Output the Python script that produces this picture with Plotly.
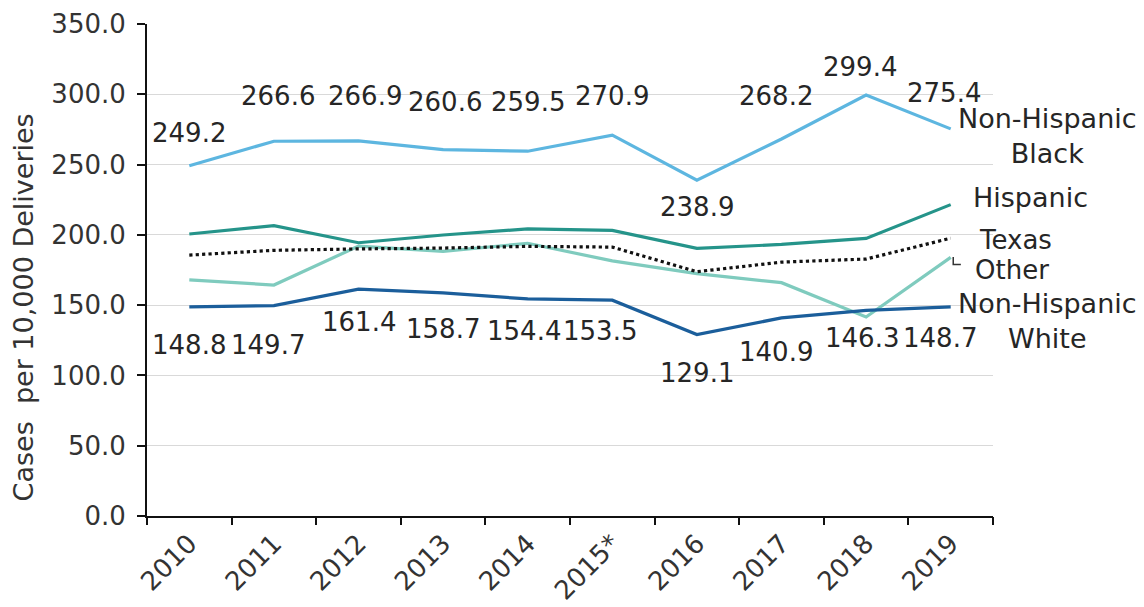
import plotly.graph_objects as go

# ── Data ──────────────────────────────────────────────────────────────────────

years = ["2010", "2011", "2012", "2013", "2014", "2015*", "2016", "2017", "2018", "2019"]

nh_black = [249.2, 266.6, 266.9, 260.6, 259.5, 270.9, 238.9, 268.2, 299.4, 275.4]
hispanic = [200.6, 206.5, 194.4, 199.9, 204.2, 203.2, 190.4, 193.2, 197.5, 221.5]
texas = [185.6, 189.0, 190.0, 190.6, 191.8, 191.3, 173.8, 180.6, 182.8, 197.6]
other = [168.0, 164.3, 192.0, 188.2, 194.0, 181.5, 172.4, 166.0, 141.6, 184.0]
nh_white = [148.8, 149.7, 161.4, 158.7, 154.4, 153.5, 129.1, 140.9, 146.3, 148.7]

# label offsets (px) — positions only, not data
black_dy = [33, 45, 45, 48, 49, 39, -27, 43, 28, 36]
black_dx = [0, 4, 6, 2, 0, 0, 0, -6, -6, -7]
white_dy = [-38, -39, -33, -36, -32, -31, -38, -34, -28, -31]
white_dx = [0, -6, 0, 0, -4, -12, 0, -6, -4, -11]

COLORS = {
    "black": "#5DB6E0",
    "hispanic": "#25948A",
    "other": "#7FCBBE",
    "white": "#1B5E9B",
    "texas": "#111111",
    "text": "#262626",
}
FONT = "DejaVu Sans"
FS = 26

fig = go.Figure()

series = [
    ("Other", other, COLORS["other"], "solid"),
    ("Hispanic", hispanic, COLORS["hispanic"], "solid"),
    ("Texas", texas, COLORS["texas"], "dot"),
    ("Non-Hispanic Black", nh_black, COLORS["black"], "solid"),
    ("Non-Hispanic White", nh_white, COLORS["white"], "solid"),
]
for name, vals, color, dash in series:
    fig.add_trace(go.Scatter(
        x=list(range(len(years))), y=vals, mode="lines", name=name,
        line=dict(color=color, width=3.2, dash=dash),
        hoverinfo="skip",
    ))

# ── Data labels ───────────────────────────────────────────────────────────────

for i, v in enumerate(nh_black):
    fig.add_annotation(x=i, y=v, text=f"{v:.1f}", showarrow=False,
                       xshift=black_dx[i], yshift=black_dy[i],
                       font=dict(size=FS, color=COLORS["text"]))

for i, v in enumerate(nh_white):
    fig.add_annotation(x=i, y=v, text=f"{v:.1f}", showarrow=False,
                       xshift=white_dx[i], yshift=white_dy[i],
                       font=dict(size=FS, color=COLORS["text"]))

# ── Series labels on the right ────────────────────────────────────────────────

right = [
    ("Non-Hispanic<br>Black", 1.064, 270.3, 27),
    ("Hispanic", 1.044, 226.9, 27),
    ("Texas", 1.027, 196.5, 26),
    ("Other", 1.023, 174.8, 26),
    ("Non-Hispanic<br>White", 1.064, 138.4, 27),
]
for text, xp, yv, fs in right:
    fig.add_annotation(xref="paper", x=xp, y=yv, text=text, showarrow=False,
                       xanchor="center", yanchor="middle", borderpad=0,
                       font=dict(size=fs, color=COLORS["text"]), align="center")

# little bracket tying "Other" to its line end
fig.add_shape(type="path", xref="paper", yref="y",
              path="M 0.953 184.3 L 0.953 179.0 L 0.962 179.0",
              line=dict(color="#333", width=1.5))

# y-axis title, sat a bit below the plot centre as in the original
fig.add_annotation(xref="paper", yref="paper", x=-0.146, y=0.425,
                   text="Cases  per 10,000 Deliveries", textangle=-90, showarrow=False,
                   xanchor="center", yanchor="middle",
                   font=dict(size=27, color="#333"))

# page body adds an 8px margin, so the figure is trimmed by that much
fig.update_layout(
    width=1136, height=599,
    margin=dict(l=139, r=151, t=16, b=91),
    paper_bgcolor="white", plot_bgcolor="white",
    font=dict(family=FONT, color="#333"),
    showlegend=False,
    xaxis=dict(
        tickmode="array", tickvals=list(range(len(years))), ticktext=years,
        tickangle=-45, tickfont=dict(size=FS, color="#333"),
        showline=True, linecolor="#111", linewidth=2, automargin=False,
        ticks="", showgrid=False, range=[-0.5, 9.5], zeroline=False,
    ),
    xaxis2=dict(
        overlaying="x", range=[-0.5, 9.5], automargin=False,
        tickmode="linear", tick0=-0.5, dtick=1, showticklabels=False,
        ticks="outside", ticklen=8, tickcolor="#111", tickwidth=2,
        showgrid=False, zeroline=False, side="bottom",
    ),
    yaxis=dict(
        range=[0, 350], dtick=50, tickformat=".1f", automargin=False,
        tickfont=dict(size=FS, color="#333"), ticklabelstandoff=6,
        showline=True, linecolor="#111", linewidth=2,
        ticks="outside", ticklen=8, tickcolor="#111", tickwidth=2,
        gridcolor="#d9d9d9", gridwidth=1, zeroline=False,
    ),
)

# invisible trace so the boundary-tick axis is drawn
fig.add_trace(go.Scatter(x=[-0.5, 9.5], y=[None, None], xaxis="x2", mode="lines",
                         hoverinfo="skip", showlegend=False))

fig.write_html("out.html")
